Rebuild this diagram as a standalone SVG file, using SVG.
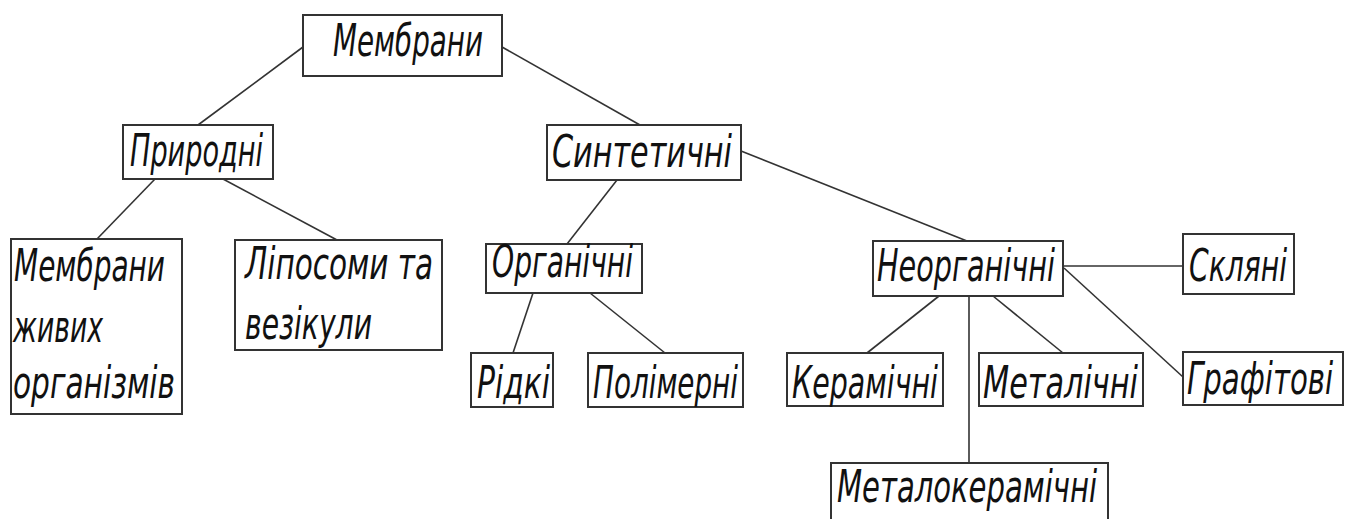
<svg xmlns="http://www.w3.org/2000/svg" width="1346" height="519" viewBox="0 0 1346 519">
<style>
rect{fill:#fff;stroke:#333;stroke-width:2}
.c line{stroke:#333;stroke-width:1.6}
text{font-family:"DejaVu Sans Condensed","DejaVu Sans",sans-serif;font-style:italic;font-size:44px;fill:#111;font-weight:300}
</style>
<rect x="0" y="0" width="1346" height="519" style="stroke:none"/>
<g class="c" id="connectors">
<line x1="303" y1="47" x2="198" y2="125"/>
<line x1="502" y1="47" x2="640" y2="125"/>
<line x1="155" y1="179" x2="97" y2="239"/>
<line x1="223" y1="179" x2="337" y2="240"/>
<line x1="617" y1="180" x2="567" y2="244"/>
<line x1="741" y1="151" x2="967" y2="241"/>
<line x1="533" y1="293" x2="513" y2="353"/>
<line x1="590" y1="293" x2="665" y2="353"/>
<line x1="939" y1="296" x2="867" y2="353"/>
<line x1="993" y1="296" x2="1063" y2="353"/>
<line x1="969" y1="296" x2="969" y2="463"/>
<line x1="1063" y1="266" x2="1183" y2="266"/>
<line x1="1064" y1="268" x2="1183" y2="377"/>
</g>
<g id="n-membrany"><rect x="303" y="15" width="199" height="61"/><text x="333" y="56" textLength="150" lengthAdjust="spacingAndGlyphs">Мембрани</text></g>
<g id="n-pryrodni"><rect x="123" y="125" width="150" height="54"/><text x="130" y="166" textLength="133" lengthAdjust="spacingAndGlyphs">Природні</text></g>
<g id="n-syntetychni"><rect x="547" y="125" width="194" height="55"/><text x="552" y="167" textLength="180" lengthAdjust="spacingAndGlyphs">Синтетичні</text></g>
<g id="n-zhyvi"><rect x="11" y="239" width="171" height="175"/>
<text x="14" y="281" textLength="151" lengthAdjust="spacingAndGlyphs">Мембрани</text>
<text x="13" y="342" textLength="90" lengthAdjust="spacingAndGlyphs">живих</text>
<text x="13" y="398" textLength="162" lengthAdjust="spacingAndGlyphs">організмів</text></g>
<g id="n-liposomy"><rect x="235" y="240" width="207" height="110"/>
<text x="245" y="279" textLength="188" lengthAdjust="spacingAndGlyphs">Ліпосоми та</text>
<text x="245" y="339" textLength="127" lengthAdjust="spacingAndGlyphs">везікули</text></g>
<g id="n-orhanichni"><rect x="486" y="244" width="156" height="49"/><text x="492" y="277" textLength="141" lengthAdjust="spacingAndGlyphs">Органічні</text></g>
<g id="n-ridki"><rect x="471" y="353" width="82" height="54"/><text x="477" y="398" textLength="73" lengthAdjust="spacingAndGlyphs">Рідкі</text></g>
<g id="n-polimerni"><rect x="588" y="353" width="155" height="54"/><text x="593" y="398" textLength="145" lengthAdjust="spacingAndGlyphs">Полімерні</text></g>
<g id="n-neorhanichni"><rect x="873" y="241" width="190" height="55"/><text x="877" y="281" textLength="178" lengthAdjust="spacingAndGlyphs">Неорганічні</text></g>
<g id="n-skliani"><rect x="1183" y="234" width="111" height="60"/><text x="1189" y="281" textLength="98" lengthAdjust="spacingAndGlyphs">Скляні</text></g>
<g id="n-keramichni"><rect x="787" y="353" width="156" height="53"/><text x="792" y="398" textLength="146" lengthAdjust="spacingAndGlyphs">Керамічні</text></g>
<g id="n-metalichni"><rect x="979" y="353" width="164" height="53"/><text x="983" y="398" textLength="155" lengthAdjust="spacingAndGlyphs">Металічні</text></g>
<g id="n-hrafitovi"><rect x="1183" y="352" width="160" height="53"/><text transform="translate(1187 394) scale(0.72 1)" x="0" y="0" textLength="203" lengthAdjust="spacingAndGlyphs">Графітові</text></g>
<g id="n-metalokeramichni"><rect x="831" y="463" width="277" height="70"/><text x="837" y="502" textLength="260" lengthAdjust="spacingAndGlyphs">Металокерамічні</text></g>
</svg>
